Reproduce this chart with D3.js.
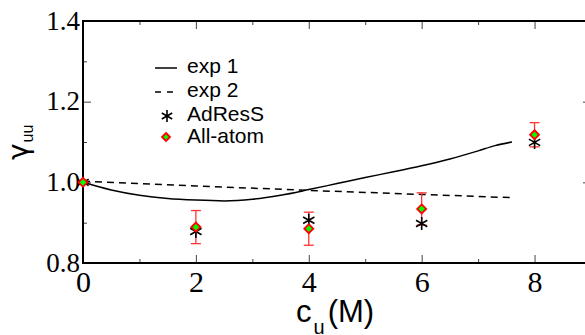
<!DOCTYPE html>
<html>
<head>
<meta charset="utf-8">
<script src="https://cdn.jsdelivr.net/npm/d3@7"></script>
<style>
  body { margin: 0; background: #fff; }
  svg { display: block; }
</style>
</head>
<body>
<div class="chart"></div>
<script>
var svgWidth = 585;
var svgHeight = 335;

var margin = { top: 21, right: -6, bottom: 72, left: 83 };

var width = svgWidth - margin.left - margin.right;
var height = svgHeight - margin.top - margin.bottom;

// experimental curves
var exp1X = [0, 0.5, 1, 1.5, 2, 2.5, 3, 3.5, 4, 4.5, 5, 5.5, 6, 6.5, 7, 7.3, 7.6];
var exp1Y = [1.0, 0.981, 0.968, 0.960, 0.956, 0.954, 0.958, 0.968, 0.982, 0.997, 1.012, 1.026, 1.041, 1.058, 1.078, 1.091, 1.100];
var exp2X = [0, 2, 4, 6, 7.6];
var exp2Y = [1.003, 0.991, 0.980, 0.970, 0.962];

// simulation points
var concX = [0, 2, 4, 6, 8];
var adressY = [1.0, 0.878, 0.906, 0.898, 1.099];
var atomY = [1.0, 0.889, 0.885, 0.934, 1.118];
var atomErr = [0, 0.041, 0.041, 0.040, 0.030];

var xTicks = [0, 2, 4, 6, 8];
var yTicks = [0.8, 1.0, 1.2, 1.4];

var svg = d3
  .select(".chart")
  .append("svg")
  .attr("width", svgWidth)
  .attr("height", svgHeight);

var chart = svg.append("g")
  .attr("transform", "translate(" + margin.left + "," + margin.top + ")");

var xScale = d3.scaleLinear().domain([0, 9]).range([0, width]);
var yScale = d3.scaleLinear().domain([0.8, 1.4]).range([height, 0]);

// ticks on all four sides, pointing inward
var xMinor = d3.range(1, 9, 2);
var yMinor = [0.9, 1.1, 1.3];

function tickAxis(axis, ticks, size, fmt) {
  return axis.tickValues(ticks).tickSizeInner(size).tickSizeOuter(0).tickFormat(fmt);
}

var none = function() { return ""; };

chart.append("g").attr("class", "x-axis")
  .attr("transform", "translate(0," + height + ")")
  .call(tickAxis(d3.axisTop(xScale), xTicks, 8, d3.format("d")));
chart.append("g").attr("class", "minor")
  .attr("transform", "translate(0," + height + ")")
  .call(tickAxis(d3.axisTop(xScale), xMinor, 4, none));
chart.append("g").attr("class", "minor")
  .call(tickAxis(d3.axisBottom(xScale), xTicks, 8, none));
chart.append("g").attr("class", "minor")
  .call(tickAxis(d3.axisBottom(xScale), xMinor, 4, none));

chart.append("g").attr("class", "y-axis")
  .call(tickAxis(d3.axisRight(yScale), yTicks, 8, d3.format(".1f")));
chart.append("g").attr("class", "minor")
  .call(tickAxis(d3.axisRight(yScale), yMinor, 4, none));
chart.append("g").attr("class", "minor")
  .attr("transform", "translate(" + width + ",0)")
  .call(tickAxis(d3.axisLeft(yScale), yTicks, 8, none));
chart.append("g").attr("class", "minor")
  .attr("transform", "translate(" + width + ",0)")
  .call(tickAxis(d3.axisLeft(yScale), yMinor, 4, none));

chart.selectAll(".domain").remove();
chart.selectAll(".tick line").attr("stroke", "#444").attr("stroke-width", 1);

// move tick labels outside the frame
chart.select(".x-axis").selectAll(".tick text")
  .attr("y", 29)
  .attr("dy", 0)
  .style("font", "30px 'Liberation Serif', serif")
  .attr("fill", "#000");
chart.select(".y-axis").selectAll(".tick text")
  .attr("x", -3)
  .attr("dy", "0.3em")
  .attr("text-anchor", "end")
  .style("font", "27px 'Liberation Serif', serif")
  .attr("fill", "#000");

// frame
chart.append("rect")
  .attr("width", width)
  .attr("height", height)
  .attr("fill", "none")
  .attr("stroke", "#000")
  .attr("stroke-width", 2);

var line = d3.line()
  .x(function(d) { return xScale(d[0]); })
  .y(function(d) { return yScale(d[1]); });

chart.append("path")
  .datum(d3.zip(exp1X, exp1Y))
  .attr("d", line.curve(d3.curveMonotoneX))
  .attr("fill", "none")
  .attr("stroke", "#000")
  .attr("stroke-width", 1.5);

chart.append("path")
  .datum(d3.zip(exp2X, exp2Y))
  .attr("d", line.curve(d3.curveLinear))
  .attr("fill", "none")
  .attr("stroke", "#000")
  .attr("stroke-width", 1.5)
  .attr("stroke-dasharray", "7,5");

// error bars
var pts = concX.map(function(x, i) {
  return { x: x, a: adressY[i], m: atomY[i], e: atomErr[i] };
});

var err = chart.selectAll(".err")
  .data(pts.filter(function(d) { return d.e > 0; }))
  .enter()
  .append("g")
  .attr("class", "err")
  .attr("stroke", "#f33")
  .attr("stroke-width", 1.3);
err.append("line")
  .attr("x1", function(d) { return xScale(d.x); })
  .attr("x2", function(d) { return xScale(d.x); })
  .attr("y1", function(d) { return yScale(d.m + d.e); })
  .attr("y2", function(d) { return yScale(d.m - d.e); });
err.selectAll(".cap")
  .data(function(d) { return [[d.x, d.m + d.e], [d.x, d.m - d.e]]; })
  .enter()
  .append("line")
  .attr("x1", function(d) { return xScale(d[0]) - 5; })
  .attr("x2", function(d) { return xScale(d[0]) + 5; })
  .attr("y1", function(d) { return yScale(d[1]); })
  .attr("y2", function(d) { return yScale(d[1]); });

// asterisk marker
function star(sel, r) {
  sel.append("path")
    .attr("d", "M0," + (-r) + "V" + r +
      "M" + (-r * 0.87) + "," + (-r * 0.5) + "L" + (r * 0.87) + "," + (r * 0.5) +
      "M" + (-r * 0.87) + "," + (r * 0.5) + "L" + (r * 0.87) + "," + (-r * 0.5))
    .attr("stroke", "#000")
    .attr("stroke-width", 1.6)
    .attr("fill", "none");
}

function diamond(sel, r) {
  sel.append("path")
    .attr("d", "M0," + (-r) + "L" + r + ",0L0," + r + "L" + (-r) + ",0Z")
    .attr("fill", "#0f0")
    .attr("stroke", "#f00")
    .attr("stroke-width", 1.8);
}

chart.selectAll(".star")
  .data(pts)
  .enter()
  .append("g")
  .attr("class", "star")
  .attr("transform", function(d) {
    return "translate(" + xScale(d.x) + "," + yScale(d.a) + ")";
  })
  .call(star, 6.5);

chart.selectAll(".diam")
  .data(pts)
  .enter()
  .append("g")
  .attr("class", "diam")
  .attr("transform", function(d) {
    return "translate(" + xScale(d.x) + "," + yScale(d.m) + ")";
  })
  .call(diamond, 4.5);

// legend
var legendNames = ["exp 1", "exp 2", "AdResS", "All-atom"];
var legendY = [68, 92, 116, 137];
var legendBase = [72.5, 96.5, 120.5, 143];

var legend = svg.append("g");
legendNames.forEach(function(name, i) {
  var row = legend.append("g");
  if (i === 0 || i === 1) {
    row.append("line")
      .attr("x1", 155).attr("x2", 177)
      .attr("y1", legendY[i]).attr("y2", legendY[i])
      .attr("stroke", "#000")
      .attr("stroke-width", 1.5)
      .attr("stroke-dasharray", i === 1 ? "6,6" : null);
  } else if (i === 2) {
    row.append("g").attr("transform", "translate(167," + legendY[i] + ")").call(star, 6);
  } else {
    row.append("g").attr("transform", "translate(166," + legendY[i] + ")").call(diamond, 4);
  }
  row.append("text")
    .attr("x", 187)
    .attr("y", legendBase[i])
    .style("font", "21px 'Liberation Sans', Arial, sans-serif")
    .text(name);
});

// axis labels
var xLabel = svg.append("text")
  .attr("x", 296)
  .attr("y", 322)
  .style("font", "31px 'Liberation Sans', Arial, sans-serif");
xLabel.append("tspan").text("c");
xLabel.append("tspan").attr("dx", 2).attr("dy", 12).style("font-size", "20px").text("u");
xLabel.append("tspan").attr("dx", 3).attr("dy", -12).text("(M)");

var yLabel = svg.append("text")
  .attr("transform", "translate(28,160) rotate(-90)")
  .style("font", "28px 'DejaVu Sans', sans-serif");
yLabel.append("tspan").text("γ");
yLabel.append("tspan").attr("dx", 1).attr("dy", 5).style("font-size", "16px")
  .style("font-family", "'Liberation Sans', Arial, sans-serif").text("uu");
</script>
</body>
</html>
